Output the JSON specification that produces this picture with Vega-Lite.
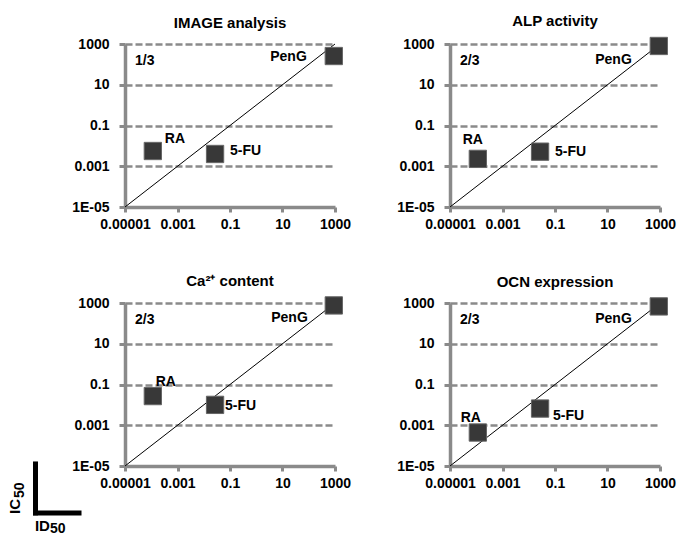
{
  "$schema": "https://vega.github.io/schema/vega-lite/v6.json",
  "padding": {"left": 8, "top": 14, "right": 5, "bottom": 0},
  "bounds": "flush",
  "columns": 2,
  "spacing": {"row": 96, "column": 115},
  "config": {
    "view": {"stroke": null},
    "font": "Liberation Sans",
    "title": {"fontSize": 15, "fontWeight": "bold", "font": "Liberation Sans", "color": "black", "anchor": "middle", "offset": 6},
    "axis": {"domainColor": "#8a8a8a", "domainWidth": 3.5, "tickColor": "#8a8a8a", "tickWidth": 3, "tickSize": 5, "labelFont": "Liberation Sans", "labelFontWeight": "bold", "labelFontSize": 14, "labelColor": "black", "labelOverlap": false, "labelFlush": false, "grid": false},
    "axisY": {"grid": true, "gridColor": "#8a8a8a", "gridDash": [7, 3], "gridWidth": 2.5, "labelPadding": 10, "tickSize": 6},
    "axisX": {"labelPadding": 5},
    "text": {"font": "Liberation Sans", "fontWeight": "bold", "fontSize": 14, "color": "black"}
  },
  "datasets": {
    "pts": [
      {"panel": "IMAGE", "drug": "RA", "id50": 0.000115, "ic50": 0.0056},
      {"panel": "IMAGE", "drug": "5-FU", "id50": 0.027, "ic50": 0.004},
      {"panel": "IMAGE", "drug": "PenG", "id50": 900, "ic50": 257},
      {"panel": "ALP", "drug": "RA", "id50": 0.000115, "ic50": 0.0023},
      {"panel": "ALP", "drug": "5-FU", "id50": 0.027, "ic50": 0.0052},
      {"panel": "ALP", "drug": "PenG", "id50": 900, "ic50": 800},
      {"panel": "Ca", "drug": "RA", "id50": 0.000115, "ic50": 0.027},
      {"panel": "Ca", "drug": "5-FU", "id50": 0.027, "ic50": 0.010},
      {"panel": "Ca", "drug": "PenG", "id50": 900, "ic50": 760},
      {"panel": "OCN", "drug": "RA", "id50": 0.000115, "ic50": 0.00044},
      {"panel": "OCN", "drug": "5-FU", "id50": 0.027, "ic50": 0.0066},
      {"panel": "OCN", "drug": "PenG", "id50": 900, "ic50": 680}
    ],
    "ratios": [
      {"panel": "IMAGE", "ratio": "1/3"},
      {"panel": "ALP", "ratio": "2/3"},
      {"panel": "Ca", "ratio": "2/3"},
      {"panel": "OCN", "ratio": "2/3"}
    ],
    "diag": [
      {"id50": 0.00001, "ic50": 0.00001},
      {"id50": 1000, "ic50": 1000}
    ],
    "axislabels": [
      {"part": "IC", "sub": "50"}
    ]
  },
  "concat": [
    {
      "width": 210, "height": 163,
      "title": "IMAGE analysis",
      "layer": [
        {
          "encoding": {
            "x": {"field": "id50", "type": "quantitative", "scale": {"type": "log", "domain": [0.00001, 1000]}, "axis": {"title": null, "values": [0.00001, 0.001, 0.1, 10, 1000], "labelExpr": "toString(datum.value)"}},
            "y": {"field": "ic50", "type": "quantitative", "scale": {"type": "log", "domain": [0.00001, 1000]}, "axis": {"title": null, "values": [0.00001, 0.001, 0.1, 10, 1000], "labelExpr": "datum.value < 0.0001 ? '1E-05' : toString(datum.value)"}}
          },
          "layer": [
            {"data": {"name": "diag"}, "mark": {"type": "line", "color": "black", "strokeWidth": 1}},
            {"data": {"name": "pts"}, "transform": [{"filter": "datum.panel === 'IMAGE'"}], "mark": {"type": "point", "shape": "square", "filled": true, "size": 300, "color": "#383838", "stroke": "#666666", "strokeWidth": 1, "opacity": 1}},
            {"data": {"name": "pts"}, "transform": [{"filter": "datum.panel === 'IMAGE' && datum.drug === 'RA'"}], "mark": {"type": "text", "dx": 12, "dy": -12, "align": "left", "baseline": "middle"}, "encoding": {"text": {"field": "drug"}}},
            {"data": {"name": "pts"}, "transform": [{"filter": "datum.panel === 'IMAGE' && datum.drug === '5-FU'"}], "mark": {"type": "text", "dx": 15, "dy": -3, "align": "left", "baseline": "middle"}, "encoding": {"text": {"field": "drug"}}},
            {"data": {"name": "pts"}, "transform": [{"filter": "datum.panel === 'IMAGE' && datum.drug === 'PenG'"}], "mark": {"type": "text", "dx": -27, "dy": 1, "align": "right", "baseline": "middle"}, "encoding": {"text": {"field": "drug"}}}
          ]
        },
        {"data": {"name": "ratios"}, "transform": [{"filter": "datum.panel === 'IMAGE'"}], "mark": {"type": "text", "align": "left", "baseline": "middle"}, "encoding": {"x": {"datum": 0.000024, "type": "quantitative", "scale": {"type": "log", "domain": [0.00001, 1000]}, "axis": {"title": null}}, "y": {"datum": 145, "type": "quantitative", "scale": {"type": "log", "domain": [0.00001, 1000]}, "axis": {"title": null}}, "text": {"field": "ratio"}}}
      ]
    },
    {
      "width": 210, "height": 163,
      "title": "ALP activity",
      "layer": [
        {
          "encoding": {
            "x": {"field": "id50", "type": "quantitative", "scale": {"type": "log", "domain": [0.00001, 1000]}, "axis": {"title": null, "values": [0.00001, 0.001, 0.1, 10, 1000], "labelExpr": "toString(datum.value)"}},
            "y": {"field": "ic50", "type": "quantitative", "scale": {"type": "log", "domain": [0.00001, 1000]}, "axis": {"title": null, "values": [0.00001, 0.001, 0.1, 10, 1000], "labelExpr": "datum.value < 0.0001 ? '1E-05' : toString(datum.value)"}}
          },
          "layer": [
            {"data": {"name": "diag"}, "mark": {"type": "line", "color": "black", "strokeWidth": 1}},
            {"data": {"name": "pts"}, "transform": [{"filter": "datum.panel === 'ALP'"}], "mark": {"type": "point", "shape": "square", "filled": true, "size": 300, "color": "#383838", "stroke": "#666666", "strokeWidth": 1, "opacity": 1}},
            {"data": {"name": "pts"}, "transform": [{"filter": "datum.panel === 'ALP' && datum.drug === 'RA'"}], "mark": {"type": "text", "dx": -5, "dy": -19, "align": "center", "baseline": "middle"}, "encoding": {"text": {"field": "drug"}}},
            {"data": {"name": "pts"}, "transform": [{"filter": "datum.panel === 'ALP' && datum.drug === '5-FU'"}], "mark": {"type": "text", "dx": 15, "dy": 0, "align": "left", "baseline": "middle"}, "encoding": {"text": {"field": "drug"}}},
            {"data": {"name": "pts"}, "transform": [{"filter": "datum.panel === 'ALP' && datum.drug === 'PenG'"}], "mark": {"type": "text", "dx": -27, "dy": 14, "align": "right", "baseline": "middle"}, "encoding": {"text": {"field": "drug"}}}
          ]
        },
        {"data": {"name": "ratios"}, "transform": [{"filter": "datum.panel === 'ALP'"}], "mark": {"type": "text", "align": "left", "baseline": "middle"}, "encoding": {"x": {"datum": 0.000024, "type": "quantitative", "scale": {"type": "log", "domain": [0.00001, 1000]}, "axis": {"title": null}}, "y": {"datum": 145, "type": "quantitative", "scale": {"type": "log", "domain": [0.00001, 1000]}, "axis": {"title": null}}, "text": {"field": "ratio"}}}
      ]
    },
    {
      "width": 210, "height": 163,
      "title": "Ca²⁺ content",
      "layer": [
        {
          "encoding": {
            "x": {"field": "id50", "type": "quantitative", "scale": {"type": "log", "domain": [0.00001, 1000]}, "axis": {"title": null, "values": [0.00001, 0.001, 0.1, 10, 1000], "labelExpr": "toString(datum.value)"}},
            "y": {"field": "ic50", "type": "quantitative", "scale": {"type": "log", "domain": [0.00001, 1000]}, "axis": {"title": null, "values": [0.00001, 0.001, 0.1, 10, 1000], "labelExpr": "datum.value < 0.0001 ? '1E-05' : toString(datum.value)"}}
          },
          "layer": [
            {"data": {"name": "diag"}, "mark": {"type": "line", "color": "black", "strokeWidth": 1}},
            {"data": {"name": "pts"}, "transform": [{"filter": "datum.panel === 'Ca'"}], "mark": {"type": "point", "shape": "square", "filled": true, "size": 300, "color": "#383838", "stroke": "#666666", "strokeWidth": 1, "opacity": 1}},
            {"data": {"name": "pts"}, "transform": [{"filter": "datum.panel === 'Ca' && datum.drug === 'RA'"}], "mark": {"type": "text", "dx": 13, "dy": -14, "align": "center", "baseline": "middle"}, "encoding": {"text": {"field": "drug"}}},
            {"data": {"name": "pts"}, "transform": [{"filter": "datum.panel === 'Ca' && datum.drug === '5-FU'"}], "mark": {"type": "text", "dx": 10, "dy": 1, "align": "left", "baseline": "middle"}, "encoding": {"text": {"field": "drug"}}},
            {"data": {"name": "pts"}, "transform": [{"filter": "datum.panel === 'Ca' && datum.drug === 'PenG'"}], "mark": {"type": "text", "dx": -26, "dy": 13, "align": "right", "baseline": "middle"}, "encoding": {"text": {"field": "drug"}}}
          ]
        },
        {"data": {"name": "ratios"}, "transform": [{"filter": "datum.panel === 'Ca'"}], "mark": {"type": "text", "align": "left", "baseline": "middle"}, "encoding": {"x": {"datum": 0.000024, "type": "quantitative", "scale": {"type": "log", "domain": [0.00001, 1000]}, "axis": {"title": null}}, "y": {"datum": 145, "type": "quantitative", "scale": {"type": "log", "domain": [0.00001, 1000]}, "axis": {"title": null}}, "text": {"field": "ratio"}}},
        {"data": {"name": "axislabels"}, "mark": {"type": "rule", "color": "black", "strokeWidth": 5, "strokeCap": "square"}, "encoding": {"x": {"datum": 3.9e-9, "type": "quantitative", "scale": {"type": "log", "domain": [0.00001, 1000]}, "axis": {"title": null}}, "y": {"datum": 1.26e-5, "type": "quantitative", "scale": {"type": "log", "domain": [0.00001, 1000]}, "axis": {"title": null}}, "y2": {"datum": 5.0e-8}}},
        {"data": {"name": "axislabels"}, "mark": {"type": "rule", "color": "black", "strokeWidth": 5, "strokeCap": "square"}, "encoding": {"x": {"datum": 3.9e-9, "type": "quantitative", "scale": {"type": "log", "domain": [0.00001, 1000]}, "axis": {"title": null}}, "x2": {"datum": 1.77e-7}, "y": {"datum": 5.0e-8, "type": "quantitative", "scale": {"type": "log", "domain": [0.00001, 1000]}, "axis": {"title": null}}}},
        {"data": {"name": "axislabels"}, "mark": {"type": "text", "angle": 270, "align": "left", "baseline": "middle", "fontSize": 15}, "encoding": {"x": {"datum": 6.7e-10, "type": "quantitative", "scale": {"type": "log", "domain": [0.00001, 1000]}, "axis": {"title": null}}, "y": {"datum": 4.4e-8, "type": "quantitative", "scale": {"type": "log", "domain": [0.00001, 1000]}, "axis": {"title": null}}, "text": {"field": "part"}}},
        {"data": {"name": "axislabels"}, "mark": {"type": "text", "angle": 270, "align": "left", "baseline": "middle", "fontSize": 14}, "encoding": {"x": {"datum": 9.6e-10, "type": "quantitative", "scale": {"type": "log", "domain": [0.00001, 1000]}, "axis": {"title": null}}, "y": {"datum": 2.7e-7, "type": "quantitative", "scale": {"type": "log", "domain": [0.00001, 1000]}, "axis": {"title": null}}, "text": {"field": "sub"}}},
        {"data": {"name": "axislabels"}, "mark": {"type": "text", "align": "left", "baseline": "middle", "fontSize": 15}, "encoding": {"x": {"datum": 3.7e-9, "type": "quantitative", "scale": {"type": "log", "domain": [0.00001, 1000]}, "axis": {"title": null}}, "y": {"datum": 1.15e-8, "type": "quantitative", "scale": {"type": "log", "domain": [0.00001, 1000]}, "axis": {"title": null}}, "text": {"value": "ID"}}},
        {"data": {"name": "axislabels"}, "mark": {"type": "text", "align": "left", "baseline": "middle", "fontSize": 14}, "encoding": {"x": {"datum": 1.4e-8, "type": "quantitative", "scale": {"type": "log", "domain": [0.00001, 1000]}, "axis": {"title": null}}, "y": {"datum": 8.1e-9, "type": "quantitative", "scale": {"type": "log", "domain": [0.00001, 1000]}, "axis": {"title": null}}, "text": {"field": "sub"}}}
      ]
    },
    {
      "width": 210, "height": 163,
      "title": "OCN expression",
      "layer": [
        {
          "encoding": {
            "x": {"field": "id50", "type": "quantitative", "scale": {"type": "log", "domain": [0.00001, 1000]}, "axis": {"title": null, "values": [0.00001, 0.001, 0.1, 10, 1000], "labelExpr": "toString(datum.value)"}},
            "y": {"field": "ic50", "type": "quantitative", "scale": {"type": "log", "domain": [0.00001, 1000]}, "axis": {"title": null, "values": [0.00001, 0.001, 0.1, 10, 1000], "labelExpr": "datum.value < 0.0001 ? '1E-05' : toString(datum.value)"}}
          },
          "layer": [
            {"data": {"name": "diag"}, "mark": {"type": "line", "color": "black", "strokeWidth": 1}},
            {"data": {"name": "pts"}, "transform": [{"filter": "datum.panel === 'OCN'"}], "mark": {"type": "point", "shape": "square", "filled": true, "size": 300, "color": "#383838", "stroke": "#666666", "strokeWidth": 1, "opacity": 1}},
            {"data": {"name": "pts"}, "transform": [{"filter": "datum.panel === 'OCN' && datum.drug === 'RA'"}], "mark": {"type": "text", "dx": -7, "dy": -15, "align": "center", "baseline": "middle"}, "encoding": {"text": {"field": "drug"}}},
            {"data": {"name": "pts"}, "transform": [{"filter": "datum.panel === 'OCN' && datum.drug === '5-FU'"}], "mark": {"type": "text", "dx": 13, "dy": 7, "align": "left", "baseline": "middle"}, "encoding": {"text": {"field": "drug"}}},
            {"data": {"name": "pts"}, "transform": [{"filter": "datum.panel === 'OCN' && datum.drug === 'PenG'"}], "mark": {"type": "text", "dx": -27, "dy": 13, "align": "right", "baseline": "middle"}, "encoding": {"text": {"field": "drug"}}}
          ]
        },
        {"data": {"name": "ratios"}, "transform": [{"filter": "datum.panel === 'OCN'"}], "mark": {"type": "text", "align": "left", "baseline": "middle"}, "encoding": {"x": {"datum": 0.000024, "type": "quantitative", "scale": {"type": "log", "domain": [0.00001, 1000]}, "axis": {"title": null}}, "y": {"datum": 145, "type": "quantitative", "scale": {"type": "log", "domain": [0.00001, 1000]}, "axis": {"title": null}}, "text": {"field": "ratio"}}}
      ]
    }
  ]
}
